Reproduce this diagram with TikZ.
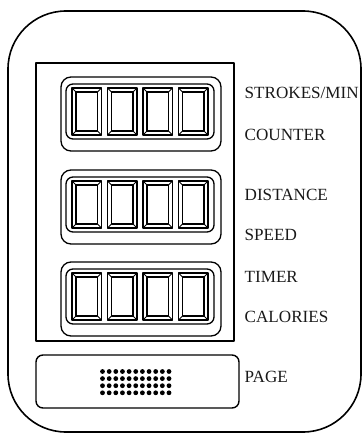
\documentclass[tikz,border=0pt]{standalone}
\usepackage{fontspec}
\setmainfont{Liberation Serif}
\begin{document}
\begin{tikzpicture}[x=1pt,y=-1pt,line join=round,
  shell/.style={line width=1.6pt,rounded corners=58pt},
  panel/.style={line width=1.5pt},
  grouprim/.style={line width=1.3pt,rounded corners=10pt},
  groupin/.style={line width=1.3pt,rounded corners=7pt},
  digitline/.style={line width=1.5pt},
  lbl/.style={anchor=west,inner sep=0pt,font=\fontsize{17.1}{19}\selectfont,text=black!90}]
\useasboundingbox (0,0) rectangle (363,436);
% outer device shell
\draw[shell] (8,11) rectangle (361,432);
% display panel
\draw[panel] (36,63) rectangle (234,341);
% three display groups
\foreach \T in {77,170,262}{
  \draw[grouprim] (61,\T) rectangle (221,\T+74);
  \draw[groupin] (66,\T+7) rectangle (214,\T+62);
  \foreach \X in {72,107.5,143,178.5}{
    \draw[digitline] (\X,\T+11) rectangle (\X+29.5,\T+58);
    \draw[digitline] (\X+4,\T+15) rectangle (\X+25.5,\T+54);
    \draw[line width=0.8pt] (\X,\T+11) -- (\X+4,\T+15)
      (\X+29.5,\T+11) -- (\X+25.5,\T+15)
      (\X,\T+58) -- (\X+4,\T+54)
      (\X+29.5,\T+58) -- (\X+25.5,\T+54);
  }
}
% page button
\draw[line width=1.4pt,rounded corners=7pt] (36,355) rectangle (239,408);
\foreach \i in {0,...,10}{
  \foreach \j in {0,...,3}{
    \fill (102.5+\i*6.65,371.5+\j*7.1) circle (2.4pt);
  }
}
% labels
\node[lbl] (l1) at (244.5,93) {STROKES/MIN};
\node[lbl] (l2) at (244.5,135) {COUNTER};
\node[lbl] (l3) at (244.5,195) {DISTANCE};
\node[lbl] (l4) at (244.5,235) {SPEED};
\node[lbl] (l5) at (244.5,277) {TIMER};
\node[lbl] (l6) at (244.5,317) {CALORIES};
\node[lbl] (l7) at (244.5,377) {PAGE};
\end{tikzpicture}
\end{document}
